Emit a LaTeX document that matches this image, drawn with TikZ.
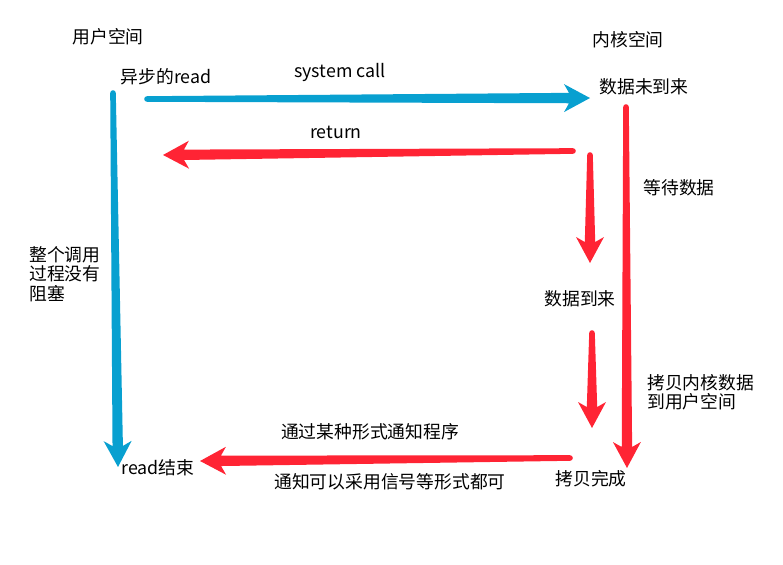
\documentclass[tikz,border=0pt]{standalone}
\usepackage{fontspec}
\setmainfont{Noto Sans CJK SC}
\usetikzlibrary{calc}

\definecolor{callblue}{RGB}{8,160,208}
\definecolor{kernred}{RGB}{255,36,52}

% tapered arrow from #2 to #3 in colour #1
\newcommand{\Fleche}[3]{
    \path let \p1=($(#3)-(#2)$), \n1={atan2(\y1,\x1)}, \n2={veclen(\x1,\y1)}
        in \pgfextra{\xdef\FAng{\n1}\xdef\FLen{\n2}};
    \begin{scope}[shift={(#2)}, rotate=\FAng]
        \fill[#1] (0,-2.8)
        -- (\FLen-21,-5.2)
        -- (\FLen-26,-14)
        -- (\FLen,0)
        -- (\FLen-26,14)
        -- (\FLen-21,5.2)
        -- (0,2.8)
        arc[start angle=90, end angle=270, radius=2.8] -- cycle;
    \end{scope}
}

\begin{document}
\begin{tikzpicture}[x=1pt, y=-1pt,
    txt/.style={inner sep=0pt, font=\fontsize{17.8}{19.5}\selectfont},
    blocktxt/.style={txt, align=left, anchor=north west}]
    \useasboundingbox (0,0) rectangle (783,564);

    % labels
    \node[txt] (user) at (108,37) {用户空间};
    \node[txt] (kernel) at (628,40) {内核空间};
    \node[txt] (aread) at (166,77) {异步的read};
    \node[txt] (syscall) at (340,72) {system call};
    \node[txt] (nodata) at (644,87) {数据未到来};
    \node[txt] (ret) at (336,132) {return};
    \node[txt] (wait) at (679,188) {等待数据};
    \node[blocktxt] (noblock) at (29,246) {整个调用\\过程没有\\阻塞};
    \node[txt] (arrive) at (580,299) {数据到来};
    \node[blocktxt] (copy) at (647,374) {拷贝内核数据\\到用户空间};
    \node[txt] (notify) at (370,432) {通过某种形式通知程序};
    \node[txt] (rend) at (158,468) {read结束};
    \node[txt] (done) at (591,479) {拷贝完成};
    \node[txt] (signal) at (390,482) {通知可以采用信号等形式都可};

    % arrow ends
    \coordinate (sc-a) at (147,99);   \coordinate (sc-b) at (590,98);
    \coordinate (ret-a) at (573,151); \coordinate (ret-b) at (163,155);
    \coordinate (w1-a) at (590,155);  \coordinate (w1-b) at (590,263);
    \coordinate (w2-a) at (592,333);  \coordinate (w2-b) at (592,428);
    \coordinate (cp-a) at (626,107);  \coordinate (cp-b) at (627,468);
    \coordinate (rd-a) at (113,93);   \coordinate (rd-b) at (118,467);
    \coordinate (nt-a) at (570,458);  \coordinate (nt-b) at (200,461);

    % arrows
    \Fleche{callblue}{sc-a}{sc-b}
    \Fleche{callblue}{rd-a}{rd-b}
    \Fleche{kernred}{ret-a}{ret-b}
    \Fleche{kernred}{w1-a}{w1-b}
    \Fleche{kernred}{w2-a}{w2-b}
    \Fleche{kernred}{cp-a}{cp-b}
    \Fleche{kernred}{nt-a}{nt-b}
\end{tikzpicture}
\end{document}
